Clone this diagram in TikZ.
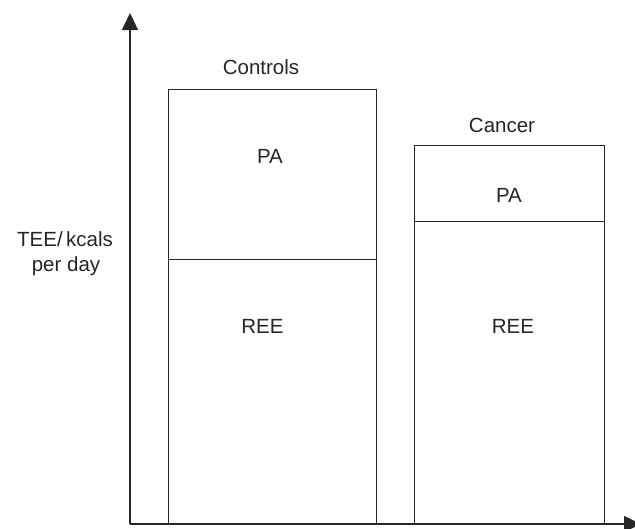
\documentclass[tikz,border=0pt]{standalone}
\usepackage{fontspec}
\setmainfont{Liberation Sans}
\usetikzlibrary{arrows.meta}
\begin{document}
\begin{tikzpicture}[x=1pt,y=-1pt,
  axis/.style={line width=1.3pt,draw=black!85,-{Triangle[width=16pt,length=17pt]}},
  barbox/.style={draw=black!85,line width=1.1pt,anchor=north west,inner sep=0pt},
  lbl/.style={anchor=base,inner sep=0pt,font=\fontsize{20.5}{23}\selectfont,text=black!85}]
\useasboundingbox (0,0) rectangle (635,528);
\coordinate (o) at (130,524);
\coordinate (ytop) at (130,13);
\coordinate (xend) at (641,524);
\node[barbox,minimum width=208pt,minimum height=170pt] (cpa) at (168,89) {};
\node[barbox,minimum width=208pt,minimum height=265pt] (cree) at (168,259) {};
\node[barbox,minimum width=190pt,minimum height=76pt] (kpa) at (414,145) {};
\node[barbox,minimum width=190pt,minimum height=303pt] (kree) at (414,221) {};
\draw[axis] (o) -- (ytop);
\draw[axis] (o) -- (xend);
\node[lbl] (tc) at (261,74) {Controls};
\node[lbl] (tk) at (502,132) {Cancer};
\node[lbl] (lcpa) at (270,163) {PA};
\node[lbl] (lcree) at (262.5,333) {REE};
\node[lbl] (lkpa) at (509,202) {PA};
\node[lbl] (lkree) at (513,333) {REE};
\node[lbl] (y1) at (65,246) {TEE/\,kcals};
\node[lbl] (y2) at (66,271) {per day};
\end{tikzpicture}
\end{document}
